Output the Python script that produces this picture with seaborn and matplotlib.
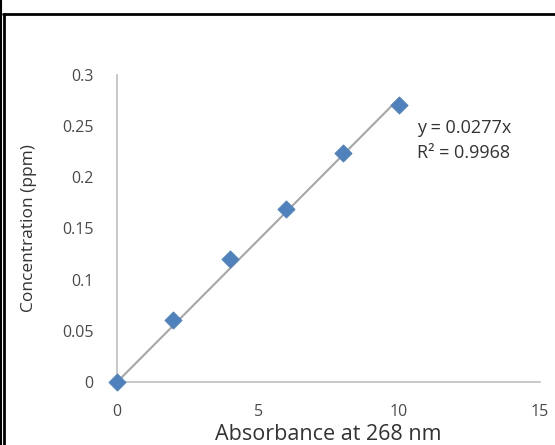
import numpy as np
import pandas as pd
import matplotlib
matplotlib.use("Agg")
import matplotlib.pyplot as plt
import seaborn as sns
from matplotlib.lines import Line2D

# calibration data
absorbance = [0, 2, 4, 6, 8, 10]
concentration = [0.0, 0.061, 0.120, 0.169, 0.224, 0.271]
slope = 0.0277
r_squared = 0.9968

x_ticks = [0, 5, 10, 15]
y_ticks = [0, 0.05, 0.1, 0.15, 0.2, 0.25, 0.3]
y_tick_labels = ["0", "0.05", "0.1", "0.15", "0.2", "0.25", "0.3"]

df = pd.DataFrame({"absorbance": absorbance, "concentration": concentration})
trend = pd.DataFrame({"absorbance": [min(absorbance), max(absorbance)]})
trend["concentration"] = slope * trend["absorbance"]

sns.set_style("white")
plt.rcParams["font.family"] = ["Open Sans", "DejaVu Sans"]

text_color = "#4a4a4a"
axis_color = "#bfbfbf"

fig = plt.figure(figsize=(5.55, 4.45), dpi=100)
ax = fig.add_axes([0.211, 0.1416, 0.762, 0.69])

sns.lineplot(data=trend, x="absorbance", y="concentration", ax=ax,
             color="#a6a6a6", linewidth=1.5, zorder=2)
sns.scatterplot(data=df, x="absorbance", y="concentration", ax=ax,
                marker="D", s=75, color="#4f81bd", edgecolor="#4f81bd",
                zorder=3, clip_on=False)

ax.set_xlim(0, 15)
ax.set_ylim(0, 0.3)
ax.set_xticks(x_ticks)
ax.set_yticks(y_ticks)
ax.set_yticklabels(y_tick_labels)

for side in ["top", "right"]:
    ax.spines[side].set_visible(False)
for side in ["left", "bottom"]:
    ax.spines[side].set_color(axis_color)
    ax.spines[side].set_linewidth(1.2)

ax.tick_params(axis="both", direction="out", length=5, width=1.2,
               color=axis_color, labelcolor=text_color, labelsize=11.5)
ax.tick_params(axis="y", pad=12)
ax.tick_params(axis="x", pad=11)

ax.set_xlabel("Absorbance at 268 nm", fontsize=15.5, color="#333333", labelpad=3)
ax.set_ylabel("Concentration (ppm)", fontsize=12.5, color="#333333", labelpad=18)

ax.text(0.709, 0.827, f"y = {slope}x", transform=ax.transAxes,
        fontsize=13, color="#333333", ha="left", va="center")
ax.text(0.709, 0.746, f"R² = {r_squared}", transform=ax.transAxes,
        fontsize=13, color="#333333", ha="left", va="center")

# chart frame cropped at the edges
fig.add_artist(Line2D([0.006, 1.0], [0.9685, 0.9685], color="black", linewidth=2))
fig.add_artist(Line2D([0.008, 0.008], [0.0, 0.9685], color="black", linewidth=2))
fig.add_artist(Line2D([0.0015, 0.0015], [0.0, 1.0], color="black", linewidth=1.5))

fig.savefig("out.png", dpi=100)
